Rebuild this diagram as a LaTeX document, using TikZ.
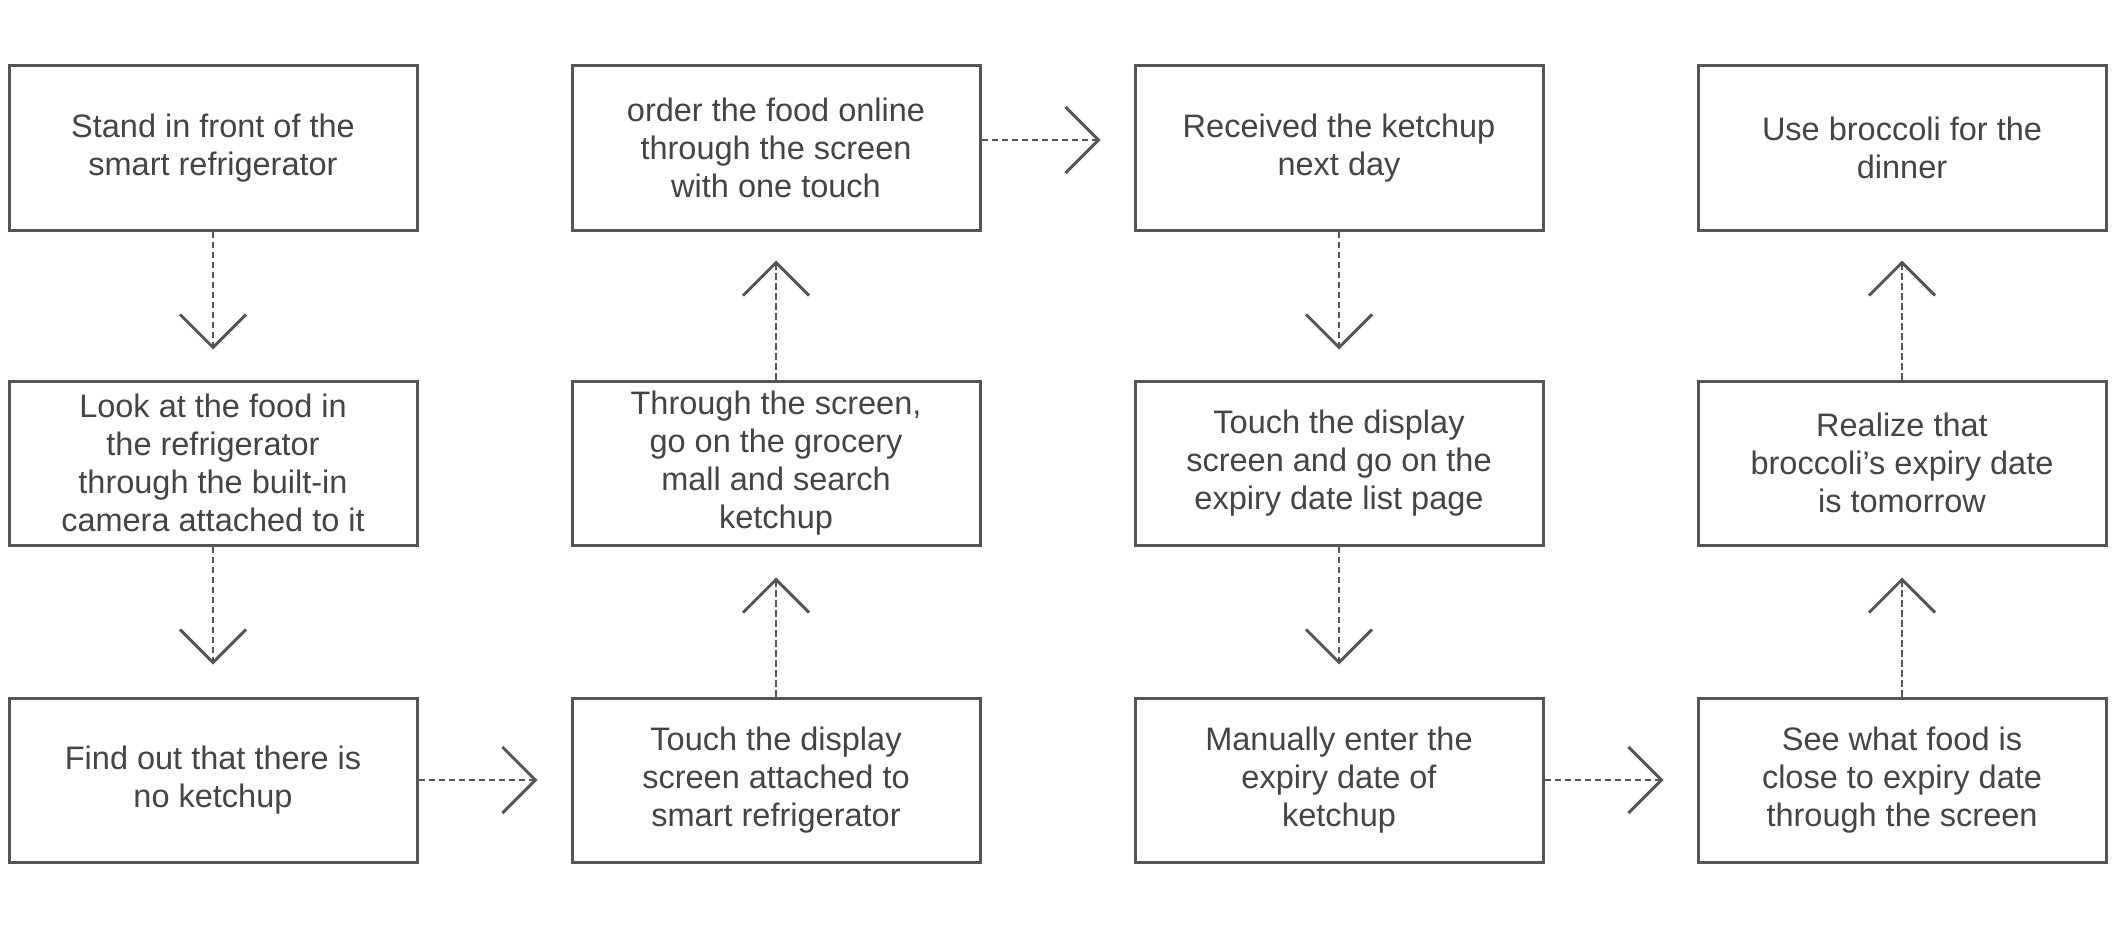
\documentclass[tikz,border=0pt]{standalone}
\usepackage{fontspec}
\setmainfont{Liberation Sans}
\usetikzlibrary{arrows.meta,calc}
\definecolor{linegray}{HTML}{555555}
\definecolor{textgray}{HTML}{444444}
\begin{document}
\begin{tikzpicture}[x=0.5pt,y=-0.5pt,
  box/.style={draw=linegray,line width=1.5pt,minimum width=204pt,minimum height=82pt,
    inner sep=0pt,align=center,text=textgray,font=\fontsize{16.25pt}{18.9pt}\selectfont},
  flow/.style={draw=linegray,line width=1.45pt,dash pattern=on 3.3pt off 1.7pt,
    -{Straight Barb[length=16.5pt,width=33pt]}}]
\useasboundingbox[fill=white] (0,0) rectangle (2114,947);
% column 1
\node[box] (b1) at (213,148) {Stand in front of the\\smart refrigerator};
\node[box] (b2) at (213,463) {Look at the food in\\the refrigerator\\through the built-in\\camera attached to it};
\node[box] (b3) at (213,780) {Find out that there is\\no ketchup};
% column 2
\node[box] (b4) at (776,780) {Touch the display\\screen attached to\\smart refrigerator};
\node[box] (b5) at (776,463) {Through the screen,\\go on the grocery\\mall and search\\ketchup};
\node[box] (b6) at (776,148) {order the food online\\through the screen\\with one touch};
% column 3
\node[box] (b7) at (1339,148) {Received the ketchup\\next day};
\node[box] (b8) at (1339,463) {Touch the display\\screen and go on the\\expiry date list page};
\node[box] (b9) at (1339,780) {Manually enter the\\expiry date of\\ketchup};
% column 4
\node[box] (b10) at (1902,780) {See what food is\\close to expiry date\\through the screen};
\node[box] (b11) at (1902,463) {Realize that\\broccoli’s expiry date\\is tomorrow};
\node[box] (b12) at (1902,148) {Use broccoli for the\\dinner};
% arrow tips
\coordinate (t1) at ($(b1.south)+(0,118)$);
\coordinate (t2) at ($(b2.south)+(0,118)$);
\coordinate (t3) at ($(b3.east)+(119,0)$);
\coordinate (t4) at ($(b4.north)+(0,-119)$);
\coordinate (t5) at ($(b5.north)+(0,-119)$);
\coordinate (s6) at ($(b6.east)+(0,-8)$);
\coordinate (t6) at ($(b6.east)+(119,-8)$);
\coordinate (t7) at ($(b7.south)+(0,118)$);
\coordinate (t8) at ($(b8.south)+(0,118)$);
\coordinate (t9) at ($(b9.east)+(119,0)$);
\coordinate (t10) at ($(b10.north)+(0,-119)$);
\coordinate (t11) at ($(b11.north)+(0,-119)$);
% connectors
\draw[flow] (b1.south) -- (t1);
\draw[flow] (b2.south) -- (t2);
\draw[flow] (b3.east) -- (t3);
\draw[flow] (b4.north) -- (t4);
\draw[flow] (b5.north) -- (t5);
\draw[flow] (s6) -- (t6);
\draw[flow] (b7.south) -- (t7);
\draw[flow] (b8.south) -- (t8);
\draw[flow] (b9.east) -- (t9);
\draw[flow] (b10.north) -- (t10);
\draw[flow] (b11.north) -- (t11);
\end{tikzpicture}
\end{document}
